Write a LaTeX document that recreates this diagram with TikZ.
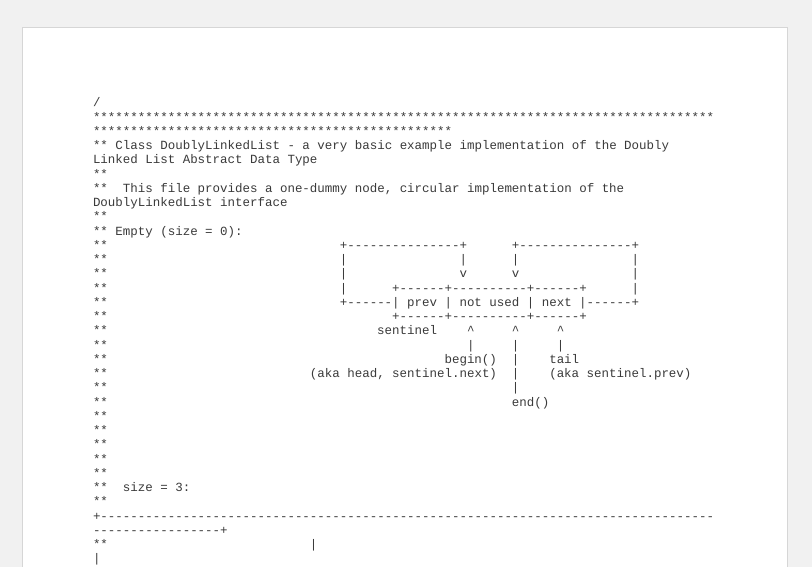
\documentclass[tikz,border=0pt]{standalone}
\usepackage{fontspec}
\newfontfamily\monoF{Liberation Mono}
\definecolor{ink}{HTML}{3A3A3A}
\definecolor{bg}{HTML}{F1F1F1}
\definecolor{frame}{HTML}{D6D6D6}
\tikzset{t/.style={anchor=base west,inner sep=0pt,outer sep=0pt,text=ink,font=\monoF\fontsize{12.47}{14}\selectfont}}
\newcommand\Pos[2]{({93+7.48*(#1)},{460-14.25*(#2)})}
\begin{document}
\begin{tikzpicture}[x=1pt,y=1pt]
\useasboundingbox (0,0) rectangle (812,567);
\fill[bg] (0,0) rectangle (812,567);
\draw[frame,fill=white] (22,-2) rectangle (787,540);
\node[t] (l0) at \Pos{0}{0} {/};
\node[t] (l1) at \Pos{0}{1} {***********************************************************************************};
\node[t] (l2) at \Pos{0}{2} {************************************************};
\node[t] (l3) at \Pos{0}{3} {** Class DoublyLinkedList - a very basic example implementation of the Doubly};
\node[t] (l4) at \Pos{0}{4} {Linked List Abstract Data Type};
\node[t] (l5) at \Pos{0}{5} {**};
\node[t] (l6a) at \Pos{0}{6} {**};
\node[t] (l6) at \Pos{4}{6} {This file provides a one-dummy node, circular implementation of the};
\node[t] (l7) at \Pos{0}{7} {DoublyLinkedList interface};
\node[t] (l8) at \Pos{0}{8} {**};
\node[t] (l9) at \Pos{0}{9} {** Empty (size = 0):};
\foreach \r in {10,...,26} {\node[t] (s\r) at \Pos{0}{\r} {**};}
% diagram
\node[t] (a1) at \Pos{33}{10} {+---------------+};
\node[t] (a2) at \Pos{56}{10} {+---------------+};
\node[t] (b1) at \Pos{33}{11} {|};
\node[t] (b2) at \Pos{49}{11} {|};
\node[t] (b3) at \Pos{56}{11} {|};
\node[t] (b4) at \Pos{72}{11} {|};
\node[t] (c1) at \Pos{33}{12} {|};
\node[t] (c2) at \Pos{49}{12} {v};
\node[t] (c3) at \Pos{56}{12} {v};
\node[t] (c4) at \Pos{72}{12} {|};
\node[t] (d1) at \Pos{33}{13} {|};
\node[t] (d2) at \Pos{40}{13} {+------+----------+------+};
\node[t] (d3) at \Pos{72}{13} {|};
\node[t] (e1) at \Pos{33}{14} {+------|};
\node[t] (e2) at \Pos{42}{14} {prev};
\node[t] (e3) at \Pos{47}{14} {|};
\node[t] (e4) at \Pos{49}{14} {not};
\node[t] (e5) at \Pos{53}{14} {used};
\node[t] (e6) at \Pos{58}{14} {|};
\node[t] (e7) at \Pos{60}{14} {next};
\node[t] (e8) at \Pos{65}{14} {|------+};
\node[t] (f1) at \Pos{40}{15} {+------+----------+------+};
\node[t] (g1) at \Pos{38}{16} {sentinel};
\node[t] (g2) at \Pos{50}{16} {\^{}};
\node[t] (g3) at \Pos{56}{16} {\^{}};
\node[t] (g4) at \Pos{62}{16} {\^{}};
\node[t] (h1) at \Pos{50}{17} {|};
\node[t] (h2) at \Pos{56}{17} {|};
\node[t] (h3) at \Pos{62}{17} {|};
\node[t] (i1) at \Pos{47}{18} {begin()};
\node[t] (i2) at \Pos{56}{18} {|};
\node[t] (i3) at \Pos{61}{18} {tail};
\node[t] (j1) at \Pos{29}{19} {(aka head, sentinel.next)};
\node[t] (j2) at \Pos{56}{19} {|};
\node[t] (j3) at \Pos{61}{19} {(aka sentinel.prev)};
\node[t] (k1) at \Pos{56}{20} {|};
\node[t] (m1) at \Pos{56}{21} {end()};
% size 3
\node[t] (n1) at \Pos{0}{27} {**};
\node[t] (n2) at \Pos{4}{27} {size = 3:};
\node[t] (n3) at \Pos{0}{28} {**};
\node[t] (n4) at \Pos{0}{29} {+----------------------------------------------------------------------------------};
\node[t] (n5) at \Pos{0}{30} {-----------------+};
\node[t] (n6) at \Pos{0}{31} {**};
\node[t] (n7) at \Pos{29}{31} {|};
\node[t] (n8) at \Pos{0}{32} {|};
\end{tikzpicture}
\end{document}
